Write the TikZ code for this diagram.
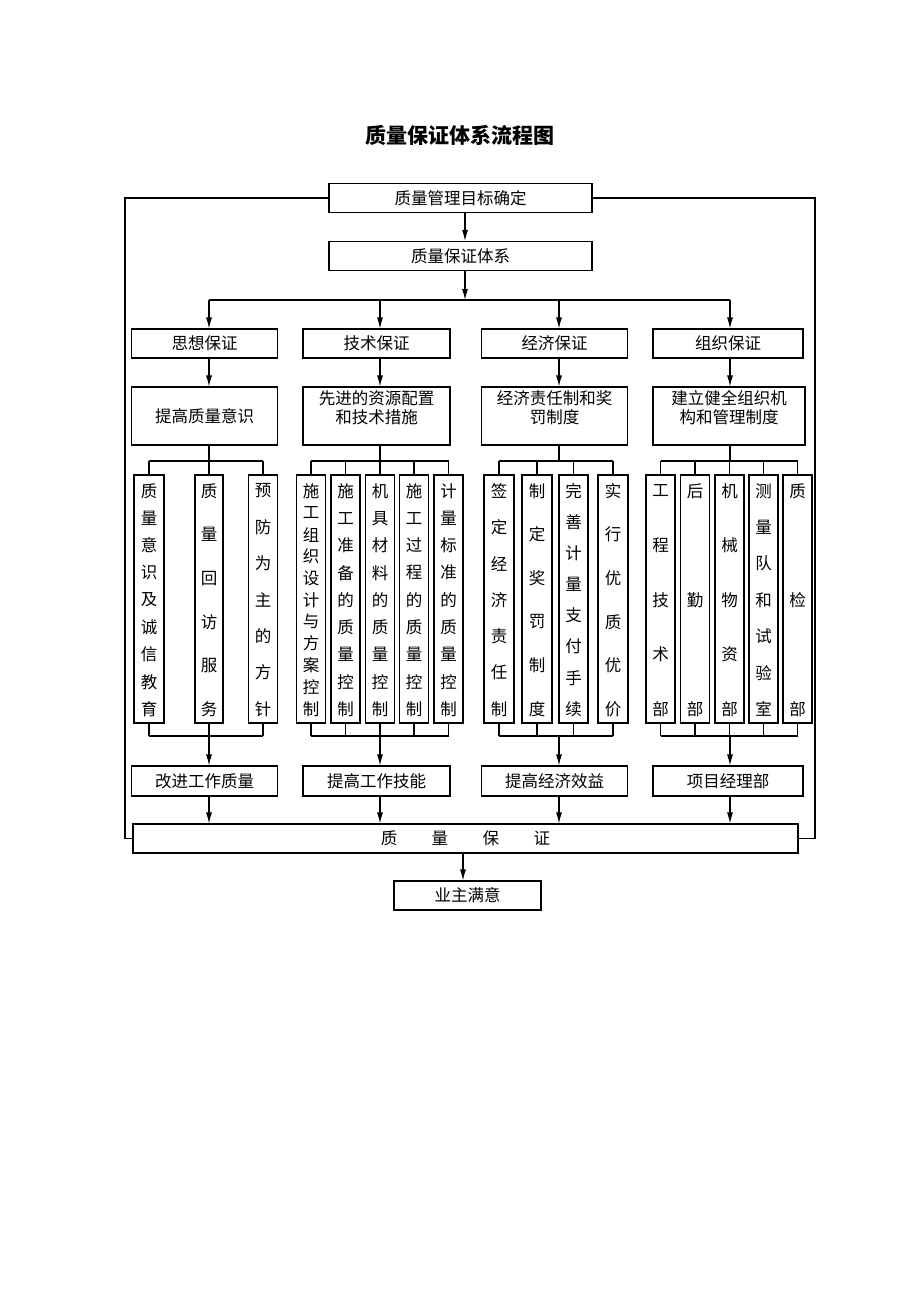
\documentclass[tikz,border=0pt]{standalone}
\usepackage{fontspec}
\setmainfont{Noto Sans CJK SC}
\usetikzlibrary{arrows.meta}
\newcommand\mkvbox[5]{%
  \pgfmathsetmacro\vw{#3-#2}%
  \pgfmathsetmacro\vx{(#2+#3)/2}%
  \node[vbox, minimum width=\vw pt] (#1) at (\vx,599) {};
  \pgfmathsetmacro\vstep{218/(#4-1)}%
  \foreach \vch [count=\vi] in {#5} {
    \node[vtext] (#1-\vi) at (\vx,{491+(\vi-1)*\vstep}) {\vch};
  }
}
\begin{document}
\begin{tikzpicture}[x=1pt,y=-1pt,
  box/.style={draw, line width=1.1pt, inner sep=0pt, font=\fontsize{16.5}{19}\selectfont, align=center},
  vbox/.style={draw, line width=1.1pt, inner sep=0pt, minimum height=248pt},
  vtext/.style={inner sep=0pt, font=\fontsize{16.5}{19}\selectfont},
  ttext/.style={inner sep=0pt, font=\fontsize{16.5}{19}\selectfont, align=center, anchor=north},
  ln/.style={line width=1.1pt},
  arr/.style={line width=1.1pt, -{Latex[length=11pt,width=6pt]}}]
\useasboundingbox[fill=white] (0,0) rectangle (920,1302);

% title
\node[inner sep=0pt, font=\bfseries\fontsize{21}{24}\selectfont] (title) at (460,135) {质量保证体系流程图};

% coordinates
\coordinate (m) at (465,0);
\coordinate (m2) at (463,0);
\coordinate (s1) at (209,0);
\coordinate (s2) at (380,0);
\coordinate (s3) at (559,0);
\coordinate (s4) at (730,0);
\coordinate (lx) at (125,0);
\coordinate (rx) at (815,0);
\coordinate (bus1) at (0,300);
\coordinate (tb) at (0,461);
\coordinate (bb) at (0,736);

% top boxes
\node[box, minimum width=263pt, minimum height=29pt] (goal) at (460.5,198) {质量管理目标确定};
\node[box, minimum width=263pt, minimum height=29pt] (sys) at (460.5,256) {质量保证体系};

% row 3
\node[box, minimum width=146pt, minimum height=29pt] (c1) at (204.5,343.5) {思想保证};
\node[box, minimum width=147pt, minimum height=29pt] (c2) at (376.5,343.5) {技术保证};
\node[box, minimum width=146pt, minimum height=29pt] (c3) at (554.5,343.5) {经济保证};
\node[box, minimum width=150pt, minimum height=29pt] (c4) at (728,343.5) {组织保证};

% row 4
\node[box, minimum width=146pt, minimum height=58pt] (d1) at (204.5,416) {提高质量意识};
\node[box, minimum width=147pt, minimum height=58pt] (d2) at (376.5,416) {};
\node[box, minimum width=146pt, minimum height=58pt] (d3) at (554.5,416) {};
\node[box, minimum width=152pt, minimum height=58pt] (d4) at (729,416) {};
\node[ttext] (d2t) at (376.5,390.5) {先进的资源配置\\和技术措施};
\node[ttext] (d3t) at (554.5,390.5) {经济责任制和奖\\罚制度};
\node[ttext] (d4t) at (729,390.5) {建立健全组织机\\构和管理制度};

% vertical boxes
\mkvbox{v11}{134}{164}{9}{质,量,意,识,及,诚,信,教,育}
\mkvbox{v12}{195}{223}{6}{质,量,回,访,服,务}
\mkvbox{v13}{248.5}{277.5}{7}{预,防,为,主,的,方,针}

\mkvbox{v21}{296.5}{325.5}{11}{施,工,组,织,设,计,与,方,案,控,制}
\mkvbox{v22}{331}{360}{9}{施,工,准,备,的,质,量,控,制}
\mkvbox{v23}{365.5}{394.5}{9}{机,具,材,料,的,质,量,控,制}
\mkvbox{v24}{399.5}{428.5}{9}{施,工,过,程,的,质,量,控,制}
\mkvbox{v25}{434}{463}{9}{计,量,标,准,的,质,量,控,制}

\mkvbox{v31}{484}{514}{7}{签,定,经,济,责,任,制}
\mkvbox{v32}{522}{552}{6}{制,定,奖,罚,制,度}
\mkvbox{v33}{559}{588}{8}{完,善,计,量,支,付,手,续}
\mkvbox{v34}{598}{628}{6}{实,行,优,质,优,价}

\mkvbox{v41}{646}{675}{5}{工,程,技,术,部}
\mkvbox{v42}{680.5}{709.5}{3}{后,勤,部}
\mkvbox{v43}{715}{744}{5}{机,械,物,资,部}
\mkvbox{v44}{749}{778}{7}{测,量,队,和,试,验,室}
\mkvbox{v45}{783}{812}{3}{质,检,部}

% row 5
\node[box, minimum width=146pt, minimum height=30pt] (e1) at (204.5,781) {改进工作质量};
\node[box, minimum width=147pt, minimum height=30pt] (e2) at (376.5,781) {提高工作技能};
\node[box, minimum width=146pt, minimum height=30pt] (e3) at (554.5,781) {提高经济效益};
\node[box, minimum width=150pt, minimum height=30pt] (e4) at (728,781) {项目经理部};

% quality box and owner
\node[box, minimum width=665pt, minimum height=29pt] (q) at (465.5,838.5) {质\hspace{34.5pt}量\hspace{34.5pt}保\hspace{34.5pt}证};
\node[box, minimum width=147pt, minimum height=29pt] (own) at (467.5,895.5) {业主满意};

% connectors top
\draw[arr] (m |- goal.south) -- (m |- sys.north);
\draw[arr] (m |- sys.south) -- (m |- bus1);
\draw[ln] (s1 |- bus1) -- (s4 |- bus1);
\foreach \k in {1,2,3,4} {
  \draw[arr] (s\k |- bus1) -- (s\k |- c\k.north);
  \draw[arr] (s\k |- c\k.south) -- (s\k |- d\k.north);
  \draw[ln] (s\k |- d\k.south) -- (s\k |- tb);
  \draw[arr] (s\k |- bb) -- (s\k |- e\k.north);
  \draw[arr] (s\k |- e\k.south) -- (s\k |- q.north);
}

% buses to vertical boxes
\draw[ln] (v11.north |- tb) -- (v13.north |- tb);
\draw[ln] (v11.south |- bb) -- (v13.south |- bb);
\foreach \b in {v11,v12,v13} {
  \draw[ln] (\b.north) -- (\b.north |- tb);
  \draw[ln] (\b.south) -- (\b.south |- bb);
}
\draw[ln] (v21.north |- tb) -- (v25.north |- tb);
\draw[ln] (v21.south |- bb) -- (v25.south |- bb);
\foreach \b in {v21,v22,v23,v24,v25} {
  \draw[ln] (\b.north) -- (\b.north |- tb);
  \draw[ln] (\b.south) -- (\b.south |- bb);
}
\draw[ln] (v31.north |- tb) -- (v34.north |- tb);
\draw[ln] (v31.south |- bb) -- (v34.south |- bb);
\foreach \b in {v31,v32,v33,v34} {
  \draw[ln] (\b.north) -- (\b.north |- tb);
  \draw[ln] (\b.south) -- (\b.south |- bb);
}
\draw[ln] (v41.north |- tb) -- (v45.north |- tb);
\draw[ln] (v41.south |- bb) -- (v45.south |- bb);
\foreach \b in {v41,v42,v43,v44,v45} {
  \draw[ln] (\b.north) -- (\b.north |- tb);
  \draw[ln] (\b.south) -- (\b.south |- bb);
}

% outer feedback lines
\draw[ln] (goal.west) -| (lx |- q.west) -- (q.west);
\draw[ln] (goal.east) -| (rx |- q.east) -- (q.east);

% final arrow
\draw[arr] (m2 |- q.south) -- (m2 |- own.north);
\end{tikzpicture}
\end{document}
